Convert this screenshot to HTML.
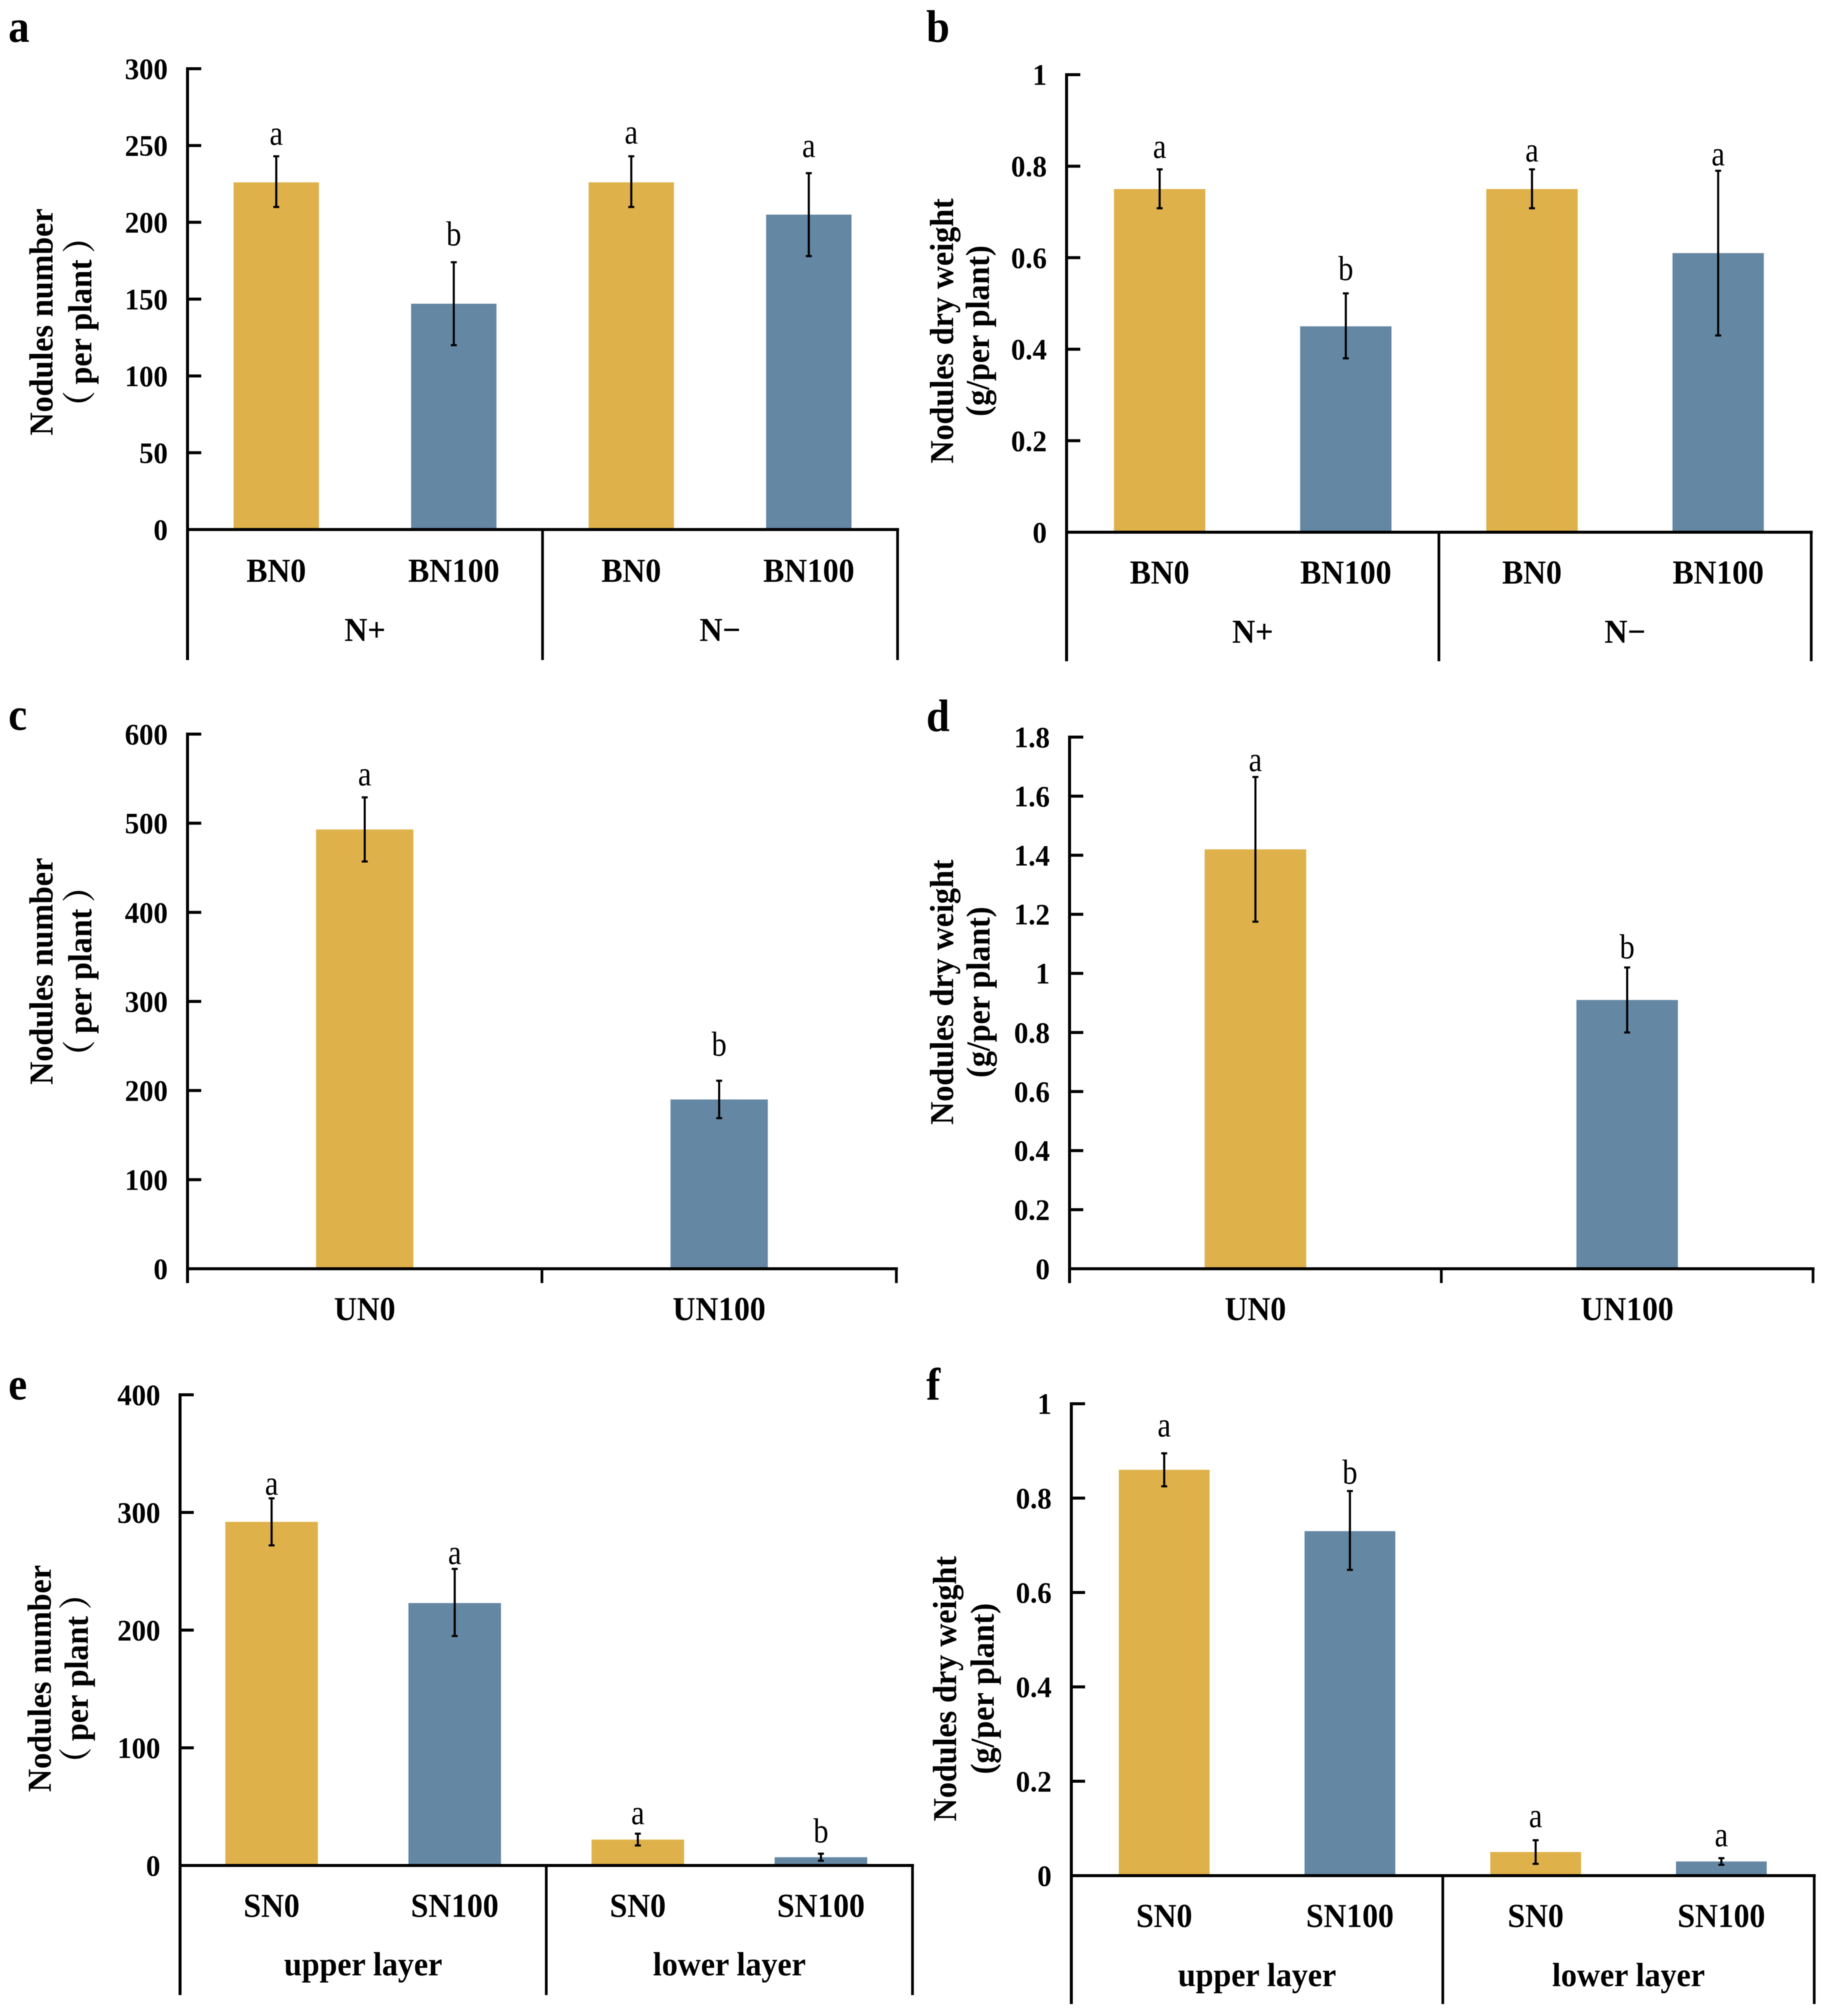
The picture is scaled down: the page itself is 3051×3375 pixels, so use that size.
<!DOCTYPE html>
<html lang="en">
<head>
<meta charset="utf-8">
<title>Nodule number and dry weight charts</title>
<style>
html,body{margin:0;padding:0;background:#fff;width:3051px;height:3375px;overflow:hidden}
svg{display:block;filter:blur(.7px)}
text{font-family:"Liberation Serif","Noto Serif CJK SC",serif;fill:#000}
.b{font-weight:700}
</style>
</head>
<body>
<svg id="figure" xmlns="http://www.w3.org/2000/svg" width="3051" height="3375" viewBox="0 0 3051 3375"></svg>
<script>
// Panel a
const aCategories = ['BN0', 'BN100', 'BN0', 'BN100'];
const aGroups = ['N+', 'N\u2212'];
const aValues = [226, 147, 226, 205];
const aErrHigh = [243, 174, 243, 232];
const aErrLow = [210, 120, 210, 178];
const aLetters = ['a', 'b', 'a', 'a'];
const aTicks = [0, 50, 100, 150, 200, 250, 300];
// Panel b
const bCategories = ['BN0', 'BN100', 'BN0', 'BN100'];
const bGroups = ['N+', 'N\u2212'];
const bValues = [0.75, 0.45, 0.75, 0.61];
const bErrHigh = [0.793, 0.522, 0.793, 0.79];
const bErrLow = [0.708, 0.38, 0.708, 0.43];
const bLetters = ['a', 'b', 'a', 'a'];
const bTicks = [0, 0.2, 0.4, 0.6, 0.8, 1];
// Panel c
const cCategories = ['UN0', 'UN100'];
const cGroups = [];
const cValues = [493, 190];
const cErrHigh = [529, 211];
const cErrLow = [457, 169];
const cLetters = ['a', 'b'];
const cTicks = [0, 100, 200, 300, 400, 500, 600];
// Panel d
const dCategories = ['UN0', 'UN100'];
const dGroups = [];
const dValues = [1.42, 0.91];
const dErrHigh = [1.665, 1.02];
const dErrLow = [1.175, 0.8];
const dLetters = ['a', 'b'];
const dTicks = [0, 0.2, 0.4, 0.6, 0.8, 1, 1.2, 1.4, 1.6, 1.8];
// Panel e
const eCategories = ['SN0', 'SN100', 'SN0', 'SN100'];
const eGroups = ['upper layer', 'lower layer'];
const eValues = [292, 223, 22, 7];
const eErrHigh = [312, 252, 27, 10];
const eErrLow = [272, 195, 17, 4];
const eLetters = ['a', 'a', 'a', 'b'];
const eTicks = [0, 100, 200, 300, 400];
// Panel f
const fCategories = ['SN0', 'SN100', 'SN0', 'SN100'];
const fGroups = ['upper layer', 'lower layer'];
const fValues = [0.86, 0.73, 0.05, 0.03];
const fErrHigh = [0.895, 0.815, 0.075, 0.037];
const fErrLow = [0.825, 0.648, 0.025, 0.023];
const fLetters = ['a', 'b', 'a', 'a'];
const fTicks = [0, 0.2, 0.4, 0.6, 0.8, 1];

const NS = 'http://www.w3.org/2000/svg';
const YELLOW = '#dfb14a';
const BLUE = '#6487a3';
const svgRoot = document.getElementById('figure');

function makeEl(parent, tag, attrs, txt) {
  const el = document.createElementNS(NS, tag);
  for (const k in attrs) el.setAttribute(k, attrs[k]);
  if (txt !== undefined) el.textContent = txt;
  parent.appendChild(el);
  return el;
}

// text placed at (x, y) and condensed horizontally along its own direction
function place(x, y, sx, rotate) {
  return 'translate(' + x + ' ' + y + ')' + (rotate ? ' rotate(-90)' : '') + ' scale(' + sx + ' 1)';
}

function drawPanel(p) {
  const g = makeEl(svgRoot, 'g', {});
  
  

  const yScale = v => p.zero - (v / p.max) * (p.zero - p.top);
  const band = (p.right - p.left) / p.categories.length;
  const xCenter = i => p.left + band * (i + 0.5);

  // panel letter
  const letter = makeEl(g, 'text', {transform: place(p.letterX, p.letterY, 0.93), class: 'b', 'font-size': 76}, p.id);
  
  

  // bars
  p.values.forEach((v, i) => {
    const rect = makeEl(g, 'rect', {
      x: xCenter(i) - p.barWidth / 2, y: yScale(v),
      width: p.barWidth, height: p.zero - yScale(v),
      fill: i % 2 === 0 ? YELLOW : BLUE
    });
    
    
  });

  // error bars
  p.errHigh.forEach((hi, i) => {
    const cx = xCenter(i);
    const y1 = yScale(hi);
    const y2 = yScale(p.errLow[i]);
    const eb = makeEl(g, 'path', {
      d: 'M' + cx + ' ' + y1 + 'V' + y2 +
         'M' + (cx - 5) + ' ' + y1 + 'H' + (cx + 5) +
         'M' + (cx - 5) + ' ' + y2 + 'H' + (cx + 5),
      stroke: '#000', 'stroke-width': 3.5, fill: 'none'
    });
    
    
  });

  // significance letters
  p.letters.forEach((s, i) => {
    const t = makeEl(g, 'text', {
      transform: place(xCenter(i), yScale(p.errHigh[i]) - p.letterGaps[i], 0.87),
      'text-anchor': 'middle', 'font-size': 58
    }, s);
    
    
  });

  // y axis and ticks
  const yAxis = makeEl(g, 'line', {x1: p.left, x2: p.left, y1: p.top - 2.5, y2: p.bottom, stroke: '#000', 'stroke-width': 5});
  
  

  p.ticks.forEach(v => {
    const y = yScale(v);
    if (v !== 0) {
      const tk = makeEl(g, 'line', {x1: p.left, x2: p.left + 23, y1: y, y2: y, stroke: '#000', 'stroke-width': 5});
      
      
    }
    const lab = makeEl(g, 'text', {
      transform: place(p.left - 33, y + 17, 0.96), 'text-anchor': 'end', class: 'b', 'font-size': 50
    }, String(v));
    
    
  });

  // x axis
  const xAxis = makeEl(g, 'line', {x1: p.left - 2.5, x2: p.right + 2.5, y1: p.zero, y2: p.zero, stroke: '#000', 'stroke-width': 5});
  
  

  [(p.left + p.right) / 2, p.right].forEach(x => {
    const d = makeEl(g, 'line', {x1: x, x2: x, y1: p.zero, y2: p.bottom, stroke: '#000', 'stroke-width': 4.5});
    
    
  });

  // category labels
  p.categories.forEach((c, i) => {
    const t = makeEl(g, 'text', {
      transform: place(xCenter(i), p.catY, 0.945), 'text-anchor': 'middle', class: 'b', 'font-size': 56
    }, c);
    
    
  });

  // group labels
  const gBand = (p.right - p.left) / 2;
  p.groups.forEach((c, i) => {
    const t = makeEl(g, 'text', {
      transform: place(p.left + gBand * (i + 0.5), p.groupY, 0.955), 'text-anchor': 'middle', class: 'b', 'font-size': 56
    }, c);
    
    
  });

  // y-axis titles
  const t1 = makeEl(g, 'text', {
    transform: place(p.title1X, p.titleY, 0.958, true),
    'text-anchor': 'middle', class: 'b', 'font-size': 56
  }, p.title1);
  
  

  const t2 = makeEl(g, 'text', {
    transform: place(p.title2X, p.titleY, 0.958, true),
    'text-anchor': 'middle', class: 'b', 'font-size': 56
  }, p.title2);
  
  
}

const countTitle = 'Nodules number';
const countUnit = '\uFF08\u2009per plant\u2009\uFF09';
const weightTitle = 'Nodules dry weight';
const weightUnit = '(g/per plant)';

drawPanel({id: 'a', categories: aCategories, groups: aGroups, values: aValues, errHigh: aErrHigh, errLow: aErrLow, letters: aLetters, ticks: aTicks, max: 300,
  left: 314, right: 1503, top: 115, zero: 886.5, bottom: 1105, barWidth: 143, letterGaps: [19, 28, 21, 27],
  letterX: 14, letterY: 70, catY: 974, groupY: 1073, title1: countTitle, title2: countUnit, title1X: 88, title2X: 153, titleY: 539});
drawPanel({id: 'b', categories: bCategories, groups: bGroups, values: bValues, errHigh: bErrHigh, errLow: bErrLow, letters: bLetters, ticks: bTicks, max: 1,
  left: 1786, right: 3033, top: 125, zero: 891, bottom: 1107, barWidth: 153, letterGaps: [19, 22, 13, 9],
  letterX: 1551, letterY: 70, catY: 977, groupY: 1076, title1: weightTitle, title2: weightUnit, title1X: 1596, title2X: 1656, titleY: 554});
drawPanel({id: 'c', categories: cCategories, groups: cGroups, values: cValues, errHigh: cErrHigh, errLow: cErrLow, letters: cLetters, ticks: cTicks, max: 600,
  left: 314, right: 1501, top: 1229, zero: 2124, bottom: 2148, barWidth: 163, letterGaps: [20, 42],
  letterX: 14, letterY: 1222, catY: 2210, groupY: 0, title1: countTitle, title2: countUnit, title1X: 88, title2X: 153, titleY: 1626});
drawPanel({id: 'd', categories: dCategories, groups: dGroups, values: dValues, errHigh: dErrHigh, errLow: dErrLow, letters: dLetters, ticks: dTicks, max: 1.8,
  left: 1791, right: 3036, top: 1234, zero: 2124, bottom: 2148, barWidth: 170, letterGaps: [10, 15],
  letterX: 1551, letterY: 1224, catY: 2210, groupY: 0, title1: weightTitle, title2: weightUnit, title1X: 1596, title2X: 1657, titleY: 1661});
drawPanel({id: 'e', categories: eCategories, groups: eGroups, values: eValues, errHigh: eErrHigh, errLow: eErrLow, letters: eLetters, ticks: eTicks, max: 400,
  left: 301.5, right: 1528, top: 2335, zero: 3123, bottom: 3340, barWidth: 155, letterGaps: [6, 8, 16, 19],
  letterX: 14, letterY: 2343, catY: 3209, groupY: 3307, title1: countTitle, title2: countUnit, title1X: 85, title2X: 147, titleY: 2810});
drawPanel({id: 'f', categories: fCategories, groups: fGroups, values: fValues, errHigh: fErrHigh, errLow: fErrLow, letters: fLetters, ticks: fTicks, max: 1,
  left: 1794, right: 3038, top: 2350, zero: 3140, bottom: 3355, barWidth: 152, letterGaps: [28, 12, 22, 20],
  letterX: 1551, letterY: 2343, catY: 3226, groupY: 3325, title1: weightTitle, title2: weightUnit, title1X: 1601, title2X: 1664, titleY: 2827});
</script>
</body>
</html>
